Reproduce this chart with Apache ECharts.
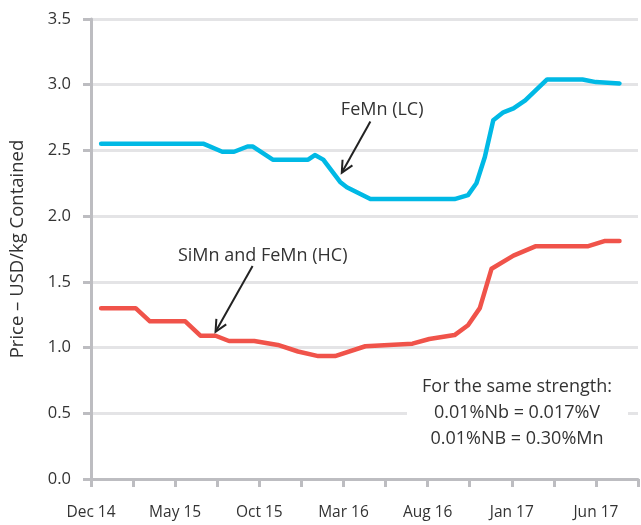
<!DOCTYPE html>
<html>
<head>
<meta charset="utf-8">
<script src="https://cdn.jsdelivr.net/npm/echarts@6/dist/echarts.min.js"></script>
<style>
  html, body { margin: 0; padding: 0; background: #fff; }
  #chart { width: 641px; height: 525px; }
</style>
</head>
<body>
<div id="chart"></div>
<script>
// x values are months after Dec 14
const xTickLabels = ['Dec 14', 'May 15', 'Oct 15', 'Mar 16', 'Aug 16', 'Jan 17', 'Jun 17'];

const lcMonths = [0.6, 6.7, 7.8, 8.5, 9.3, 9.6, 10.8, 12.9, 13.3, 13.8, 14.8, 15.2, 16.6, 21.6, 22.4, 22.9, 23.4, 23.9, 24.5, 25.1, 25.8, 27.1, 29.2, 30.0, 31.4];
const lcValues = [2.55, 2.55, 2.49, 2.49, 2.53, 2.53, 2.43, 2.43, 2.465, 2.43, 2.26, 2.22, 2.13, 2.13, 2.16, 2.25, 2.45, 2.73, 2.79, 2.82, 2.88, 3.04, 3.04, 3.02, 3.01];

const hcMonths = [0.6, 2.65, 3.5, 5.6, 6.5, 7.4, 8.2, 9.7, 11.1, 12.3, 13.5, 14.5, 16.3, 19.1, 20.1, 21.6, 22.4, 23.1, 23.8, 25.1, 26.4, 29.5, 30.5, 31.4];
const hcValues = [1.30, 1.30, 1.20, 1.20, 1.09, 1.09, 1.05, 1.05, 1.02, 0.97, 0.935, 0.935, 1.01, 1.03, 1.065, 1.095, 1.17, 1.30, 1.60, 1.70, 1.77, 1.77, 1.81, 1.81];

// arrow annotations: [from month, from value, to month, to value]
const lcArrow = [16.6, 2.72, 14.9, 2.33];
const hcArrow = [9.6, 1.62, 7.4, 1.12];

const font = 'Open Sans';
const axisGrey = '#bdbdc1';
const textColor = '#333';

const chart = echarts.init(document.getElementById('chart'), null, { renderer: 'canvas' });

const pairs = (xs, ys) => xs.map((x, i) => [x, ys[i]]);

chart.setOption({
  animation: false,
  grid: { left: 89, right: 1, top: 19, bottom: 46 },
  xAxis: {
    type: 'value',
    min: 0,
    max: 32.5,
    interval: 2.5,
    axisLine: { show: true, lineStyle: { color: axisGrey, width: 3 } },
    axisTick: { show: true, length: 8, lineStyle: { color: axisGrey, width: 3 } },
    splitLine: { show: false },
    axisLabel: {
      margin: 26,
      fontFamily: font,
      fontSize: 15.5,
      color: textColor,
      showMaxLabel: true,
      formatter: function (v) {
        const r = Math.round(v * 10) / 10;
        if (r % 5 !== 0) return '';
        return xTickLabels[r / 5] || '';
      }
    }
  },
  yAxis: {
    type: 'value',
    min: 0,
    max: 3.5,
    interval: 0.5,
    name: 'Price – USD/kg Contained',
    nameLocation: 'middle',
    nameGap: 64,
    nameTextStyle: { fontFamily: font, fontSize: 18.5, color: textColor },
    axisLine: { show: true, lineStyle: { color: axisGrey, width: 3 } },
    axisTick: { show: true, length: 8, lineStyle: { color: axisGrey, width: 3 } },
    splitLine: { show: true, lineStyle: { color: '#e4e4e6', width: 3 } },
    axisLabel: {
      margin: 20,
      fontFamily: font,
      fontSize: 16.5,
      color: textColor,
      formatter: v => v.toFixed(1)
    }
  },
  series: [
    {
      name: 'FeMn (LC)',
      type: 'line',
      showSymbol: false,
      data: pairs(lcMonths, lcValues),
      lineStyle: { color: '#00b9e5', width: 4.5, cap: 'round', join: 'round' },
      itemStyle: { color: '#00b9e5' }
    },
    {
      name: 'SiMn and FeMn (HC)',
      type: 'line',
      showSymbol: false,
      data: pairs(hcMonths, hcValues),
      lineStyle: { color: '#f0534a', width: 4.5, cap: 'round', join: 'round' },
      itemStyle: { color: '#f0534a' }
    }
  ]
});

function arrowGraphic(a) {
  const p0 = chart.convertToPixel({ gridIndex: 0 }, [a[0], a[1]]);
  const p1 = chart.convertToPixel({ gridIndex: 0 }, [a[2], a[3]]);
  const ang = Math.atan2(p1[1] - p0[1], p1[0] - p0[0]);
  const len = 13, spread = 0.45;
  const h1 = [p1[0] - len * Math.cos(ang - spread), p1[1] - len * Math.sin(ang - spread)];
  const h2 = [p1[0] - len * Math.cos(ang + spread), p1[1] - len * Math.sin(ang + spread)];
  const st = { stroke: '#222', lineWidth: 2, fill: null };
  return [
    { type: 'line', shape: { x1: p0[0], y1: p0[1], x2: p1[0], y2: p1[1] }, style: st, z: 10 },
    { type: 'polyline', shape: { points: [h1, p1, h2] }, style: st, z: 10 }
  ];
}

function labelAt(month, value, text) {
  const p = chart.convertToPixel({ gridIndex: 0 }, [month, value]);
  return {
    type: 'text', x: p[0], y: p[1], z: 10,
    style: { text: text, fontFamily: font, fontSize: 18, fill: textColor, align: 'center', verticalAlign: 'middle' }
  };
}

chart.setOption({
  graphic: [
    ...arrowGraphic(lcArrow),
    ...arrowGraphic(hcArrow),
    labelAt(17.3, 2.81, 'FeMn (LC)'),
    labelAt(10.2, 1.70, 'SiMn and FeMn (HC)'),
    {
      type: 'rect', z: 9,
      shape: { x: 407, y: 372, width: 221, height: 80 },
      style: { fill: '#fff' }
    },
    {
      type: 'text', x: 517, y: 413, z: 10,
      style: {
        text: 'For the same strength:\n0.01%Nb = 0.017%V\n0.01%NB = 0.30%Mn',
        fontFamily: font, fontSize: 18, lineHeight: 26, fill: textColor,
        align: 'center', verticalAlign: 'middle'
      }
    }
  ]
});
</script>
</body>
</html>
